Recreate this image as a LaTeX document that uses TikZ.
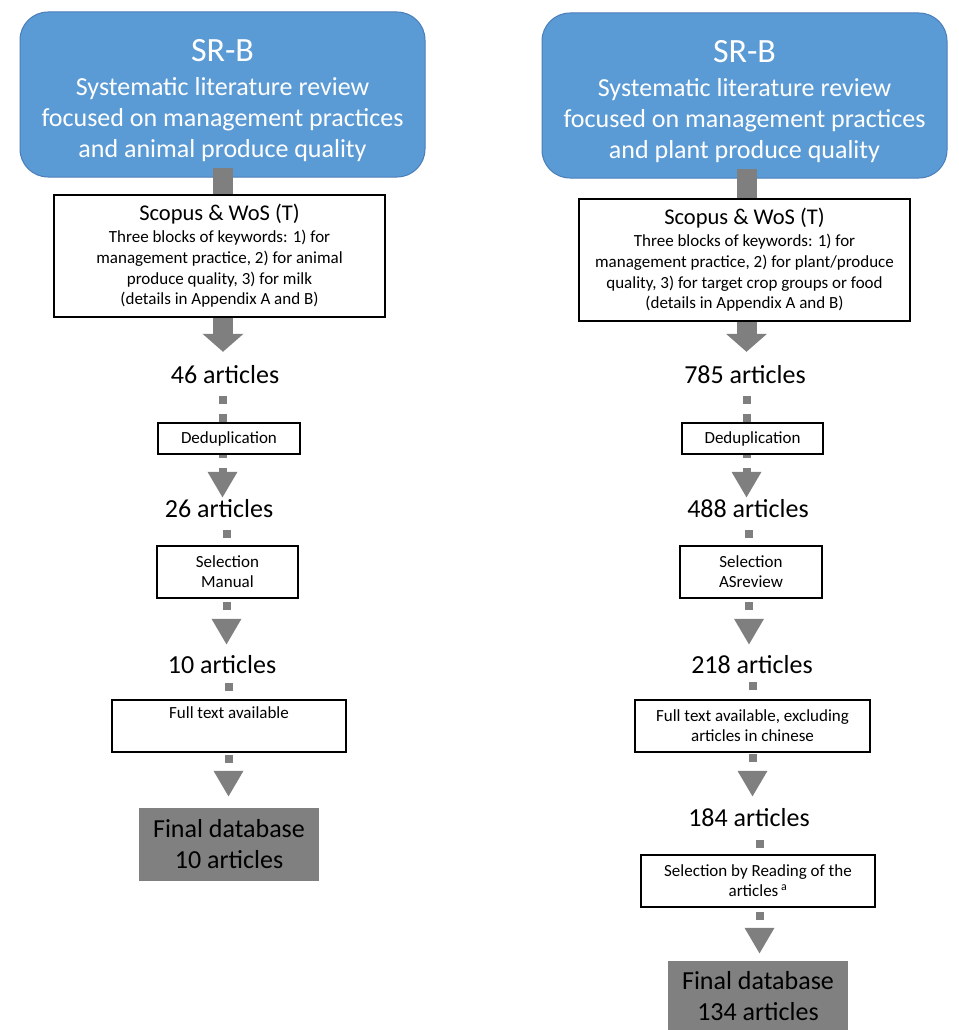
\documentclass[tikz,border=0pt]{standalone}
\usepackage{fontspec}
\setmainfont{Carlito}
\usetikzlibrary{arrows.meta,calc}
\definecolor{srblue}{HTML}{5B9BD5}
\definecolor{srborder}{HTML}{4A7EBB}
\definecolor{linkgray}{HTML}{7F7F7F}
\definecolor{dbgray}{HTML}{808080}
\pgfdeclarelayer{boxes}
\pgfdeclarelayer{links}
\pgfsetlayers{boxes,links,main}
\begin{document}
\begin{tikzpicture}[x=1pt,y=-1pt,
  srbox/.style={rectangle, rounded corners=28pt, fill=srblue, draw=srborder, line width=1pt,
    text=white, minimum width=405pt, minimum height=165pt, inner sep=0pt, align=center,
    font=\fontsize{26}{31}\selectfont},
  searchbox/.style={draw=black, fill=white, line width=1.2pt, minimum width=331pt,
    minimum height=122pt, inner sep=0pt, align=center, font=\fontsize{17}{20.7}\selectfont},
  stepbox/.style={draw=black, fill=white, line width=1.2pt, inner sep=0pt, align=center,
    font=\fontsize{17}{20}\selectfont},
  counttext/.style={inner sep=0pt, anchor=base, text height=17pt, text depth=0pt,
    font=\fontsize{26}{31}\selectfont},
  finalbox/.style={fill=dbgray, inner sep=0pt, align=center, minimum width=180pt,
    font=\fontsize{26}{31}\selectfont},
  bigarrow/.style={draw=linkgray, line width=20pt, -{Triangle[width=40pt,length=18pt]}},
  dotarrow/.style={draw=linkgray, line width=8pt, dash pattern=on 8pt off 10pt,
    -{Triangle[width=28pt,length=26pt]}},
]
\useasboundingbox (0,0) rectangle (958,1030);

% ---- header boxes ----
\begin{pgfonlayer}{boxes}
\node[srbox] (srL) at (222.5,94.5)
  {\rule{0pt}{33.5pt}{\fontsize{34}{40}\selectfont SR-B}\\[3pt]
   Systematic literature review\\ focused on management practices\\ and animal produce quality};
\node[srbox] (srR) at (744.5,95.5)
  {\rule{0pt}{33.5pt}{\fontsize{34}{40}\selectfont SR-B}\\[3pt]
   Systematic literature review\\ focused on management practices\\ and plant produce quality};
\end{pgfonlayer}

% ---- left column: animal produce ----
\node[searchbox] (scL) at (219.5,256)
  {{\fontsize{22.5}{27}\selectfont Scopus \& WoS (T)}\\[1.3pt]
   Three blocks of keywords: 1) for\\ management practice, 2) for animal\\
   produce quality, 3) for milk\\ (details in Appendix A and B)};
\node[counttext] (c46L) at (225,383) {46 articles};
\node[stepbox, minimum width=142pt, minimum height=31pt] (dedupL) at (229,438.5) {Deduplication};
\node[counttext] (c26L) at (219,517) {26 articles};
\node[stepbox, minimum width=141pt, minimum height=52pt] (selL) at (227.5,572) {Selection\\ Manual};
\node[counttext] (c10L) at (222,673) {10 articles};
\node[stepbox, minimum width=234pt, minimum height=52pt] (fullL) at (229,726) {Full text available\\ \strut};
\node[finalbox, minimum height=73pt] (finalL) at (229,844.5) {Final database\\ 10 articles};

% ---- right column: plant produce ----
\node[searchbox] (scR) at (744.5,260)
  {{\fontsize{22.5}{27}\selectfont Scopus \& WoS (T)}\\[1.3pt]
   Three blocks of keywords: 1) for\\ management practice, 2) for plant/produce\\
   quality, 3) for target crop groups or food\\ (details in Appendix A and B)};
\node[counttext] (c785R) at (745,383) {785 articles};
\node[stepbox, minimum width=141pt, minimum height=31pt] (dedupR) at (752.5,438.5) {Deduplication};
\node[counttext] (c488R) at (748,517) {488 articles};
\node[stepbox, minimum width=142pt, minimum height=52pt] (selR) at (751,572) {Selection\\ ASreview};
\node[counttext] (c218R) at (752,673) {218 articles};
\node[stepbox, minimum width=235pt, minimum height=52pt] (fullR) at (752.5,726)
  {Full text available, excluding\\ articles in chinese};
\node[counttext] (c184R) at (749,826) {184 articles};
\node[stepbox, minimum width=234pt, minimum height=52pt] (readR) at (758,881)
  {Selection by Reading of the\\ articles\,\textsuperscript{a}};
\node[finalbox, minimum height=70pt] (finalR) at (758,996) {Final database\\ 134 articles};

% ---- connectors ----
\begin{pgfonlayer}{links}
% left
\path ($(srL.south)+(0.5,-10)$) coordinate (tLs);
\draw[bigarrow] (tLs) -- ($(tLs |- c46L.north)+(0,-14)$);
\path ($(c46L.south)+(-2.5,13)$) coordinate (d1Ls);
\draw[dotarrow] (d1Ls) -- ($(d1Ls |- c26L.north)+(0,-2)$);
\path ($(c26L.south)+(7.5,13)$) coordinate (d2Ls);
\draw[dotarrow] (d2Ls) -- ($(d2Ls |- c10L.north)+(0,-11)$);
\path ($(c10L.south)+(6.5,10)$) coordinate (d3Ls);
\draw[dotarrow] (d3Ls) -- ($(d3Ls |- finalL.north)+(0,-11)$);
% right
\path ($(srR.south)+(2,-10)$) coordinate (tRs);
\draw[bigarrow] (tRs) -- ($(tRs |- c785R.north)+(0,-14)$);
\path ($(c785R.south)+(1.5,13)$) coordinate (d1Rs);
\draw[dotarrow] (d1Rs) -- ($(d1Rs |- c488R.north)+(0,-2)$);
\path ($(c488R.south)+(1,13)$) coordinate (d2Rs);
\draw[dotarrow] (d2Rs) -- ($(d2Rs |- c218R.north)+(0,-11)$);
\path ($(c218R.south)+(0.5,9)$) coordinate (d3Rs);
\draw[dotarrow] (d3Rs) -- ($(d3Rs |- c184R.north)+(0,-12)$);
\path ($(c184R.south)+(10.5,14)$) coordinate (d4Rs);
\draw[dotarrow] (d4Rs) -- ($(d4Rs |- finalR.north)+(0,-7)$);
\end{pgfonlayer}
\end{tikzpicture}
\end{document}
